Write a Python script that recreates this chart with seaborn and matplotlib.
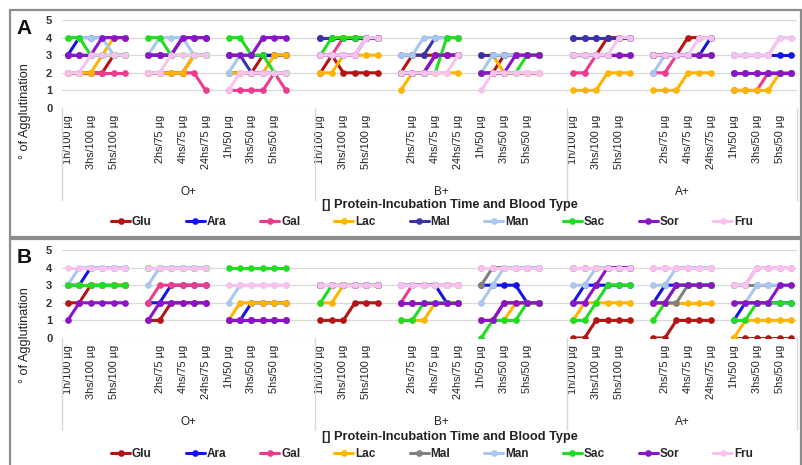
import numpy as np
import pandas as pd
import matplotlib
matplotlib.use("Agg")
import matplotlib.pyplot as plt
from matplotlib.lines import Line2D
from matplotlib.patches import Rectangle
import seaborn as sns

# ---------------- data ----------------
series = ["Glu", "Ara", "Gal", "Lac", "Mal", "Man", "Sac", "Sor", "Fru"]
blood_types = ["O+", "B+", "A+"]
doses = ["100 µg", "75 µg", "50 µg"]
times = ["1h", "2hs", "3hs", "4hs", "5hs", "24hs"]
y_ticks = [0, 1, 2, 3, 4, 5]
x_title = "[] Protein-Incubation Time and Blood Type"
y_title = "° of Agglutination"

# each list: O+ (100,75,50 µg x 6 times), B+ (...), A+ (...)
A_Glu = [2,2,2,2,3,3, 2,2,2,2,3,3, 2,2,2,3,3,3,
         2,3,2,2,2,2, 2,3,3,3,3,3, 2,2,3,3,3,3,
         3,3,3,4,4,4, 3,3,3,4,4,4, 2,2,2,2,2,2]
A_Ara = [3,4,4,4,4,4, 3,3,3,4,4,4, 3,3,3,3,3,3,
         4,4,4,4,4,4, 2,2,2,3,3,3, 3,3,3,3,3,3,
         4,4,4,4,4,4, 3,3,3,3,3,4, 3,3,3,3,3,3]
A_Gal = [2,2,2,2,2,2, 2,2,2,2,2,1, 1,1,1,1,2,1,
         3,3,4,4,4,4, 2,2,2,3,3,3, 2,2,2,2,2,2,
         2,2,3,3,3,3, 2,2,3,3,3,3, 1,1,1,2,2,2]
A_Lac = [2,2,2,3,4,4, 2,2,2,2,3,3, 2,2,2,2,3,3,
         2,2,3,3,3,3, 1,2,2,2,2,2, 3,3,2,2,2,2,
         1,1,1,2,2,2, 1,1,1,2,2,2, 1,1,1,1,2,2]
A_Mal = [3,3,3,3,3,3, 3,3,3,4,4,4, 3,3,2,2,2,2,
         4,4,4,4,4,4, 3,3,3,4,4,4, 3,3,3,3,3,3,
         4,4,4,4,4,4, 3,3,3,3,3,3, 2,2,2,2,2,2]
A_Man = [4,4,4,4,3,3, 3,4,4,4,3,3, 2,3,3,4,4,4,
         3,3,3,3,4,4, 3,3,4,4,4,4, 2,3,3,3,3,3,
         3,3,3,3,3,3, 2,3,3,3,3,3, 3,3,3,3,4,4]
A_Sac = [4,4,3,3,3,3, 4,4,3,3,3,3, 4,4,3,3,2,2,
         3,4,4,4,4,4, 2,2,2,2,4,4, 2,2,2,2,3,3,
         3,3,3,3,3,3, 3,3,3,3,3,3, 2,2,2,2,2,2]
A_Sor = [3,3,3,4,4,4, 3,3,3,4,4,4, 3,3,3,4,4,4,
         3,3,3,3,4,4, 2,2,2,3,3,3, 2,2,2,3,3,3,
         3,3,3,3,3,3, 3,3,3,3,3,3, 2,2,2,2,2,2]
A_Fru = [2,2,3,3,3,3, 2,2,3,3,3,3, 1,2,2,2,2,2,
         3,3,3,3,4,4, 2,2,2,2,2,3, 1,2,2,2,2,2,
         3,3,3,3,4,4, 3,3,3,3,4,4, 3,3,3,3,4,4]

B_Glu = [2,2,3,3,3,3, 1,1,2,2,2,2, 1,1,1,1,1,1,
         1,1,1,2,2,2, 2,2,2,2,2,2, 1,1,2,2,2,2,
         0,0,1,1,1,1, 0,0,1,1,1,1, 0,0,0,0,0,0]
B_Ara = [3,3,4,4,4,4, 2,2,3,3,3,3, 1,1,2,2,2,2,
         3,3,3,3,3,3, 3,3,3,3,2,2, 3,3,3,3,2,2,
         2,3,3,3,3,3, 2,3,3,3,3,3, 1,2,2,2,2,2]
B_Gal = [3,3,3,3,3,3, 2,3,3,3,3,3, 1,1,1,1,1,1,
         3,3,3,3,3,3, 2,3,3,3,3,3, 4,4,4,4,4,4,
         4,4,4,4,4,4, 4,4,4,4,4,4, 3,3,4,4,4,4]
B_Lac = [3,3,3,3,3,3, 4,4,4,4,4,4, 1,2,2,2,2,2,
         2,2,3,3,3,3, 1,1,1,2,2,2, 1,1,1,2,2,2,
         1,2,2,2,2,2, 2,2,2,2,2,2, 0,1,1,1,1,1]
B_Mal = [3,3,3,3,3,3, 4,4,4,4,4,4, 1,1,1,1,1,1,
         3,3,3,3,3,3, 3,3,3,3,3,3, 3,4,4,4,4,4,
         4,4,4,4,4,4, 2,2,2,3,3,3, 3,3,3,3,3,3]
B_Man = [3,4,4,4,4,4, 3,4,4,4,4,4, 2,3,3,3,3,3,
         3,3,3,3,3,3, 3,3,3,3,3,3, 2,3,4,4,4,4,
         3,3,4,4,4,4, 3,3,4,4,4,4, 2,2,3,3,3,3]
B_Sac = [3,3,3,3,3,3, 4,4,4,4,4,4, 4,4,4,4,4,4,
         2,3,3,3,3,3, 1,1,2,2,2,2, 0,1,1,1,2,2,
         1,1,2,3,3,3, 1,2,3,3,3,3, 1,1,2,2,2,2]
B_Sor = [1,2,2,2,2,2, 1,2,2,2,2,2, 1,1,1,1,1,1,
         3,3,3,3,3,3, 2,2,2,2,2,2, 1,1,2,2,2,2,
         2,2,3,4,4,4, 2,2,3,3,3,3, 2,2,2,2,3,3]
B_Fru = [4,4,4,4,4,4, 4,4,4,4,4,4, 3,3,3,3,3,3,
         3,3,3,3,3,3, 3,3,3,3,3,3, 4,4,4,4,4,4,
         4,4,4,4,4,4, 4,4,4,4,4,4, 3,3,4,4,4,4]

panel_A = dict(zip(series, [A_Glu, A_Ara, A_Gal, A_Lac, A_Mal, A_Man, A_Sac, A_Sor, A_Fru]))
panel_B = dict(zip(series, [B_Glu, B_Ara, B_Gal, B_Lac, B_Mal, B_Man, B_Sac, B_Sor, B_Fru]))

colors_A = ["#B41414", "#1414E6", "#EC3C8E", "#FFB400", "#3C32A8",
            "#A8C6EE", "#22DC22", "#8C14C8", "#F7C2F0"]
colors_B = ["#B41414", "#1414E6", "#EC3C8E", "#FFB400", "#808080",
            "#A8C6EE", "#22DC22", "#8C14C8", "#F7C2F0"]

# ---------------- layout helpers ----------------
W, H = 803, 465
GROUP_LEN = 22          # categories per blood type (incl. blank rows)
BLOCK_LEN = 7           # 6 times + blank
N_CAT = 64

def fx(px):
    return px / W

def fy(py):
    return 1 - py / H

def build_df(values):
    rows = []
    for s in series:
        vals = values[s]
        for g in range(len(blood_types)):
            for b in range(len(doses)):
                for t in range(len(times)):
                    rows.append(dict(series=s,
                                     x=g * GROUP_LEN + b * BLOCK_LEN + t,
                                     val=vals[g * 18 + b * 6 + t],
                                     seg=g * 3 + b))
    return pd.DataFrame(rows)

tick_pos, tick_lab = [], []
for g in range(len(blood_types)):
    for b, d in enumerate(doses):
        for t, tm in enumerate(times):
            local = b * BLOCK_LEN + t
            if local % 2 == 0:
                tick_pos.append(g * GROUP_LEN + local)
                tick_lab.append(f"{tm}/{d}")

sns.set_style("white")
plt.rcParams["font.family"] = ["Liberation Sans", "DejaVu Sans"]

fig = plt.figure(figsize=(W / 100, H / 100), dpi=100)

# panel frames
for (x0, y0, x1, y1) in [(10, 10, 801, 237), (10, 239, 801, 470)]:
    fig.patches.append(Rectangle((fx(x0), fy(y1)), fx(x1) - fx(x0), fy(y0) - fy(y1),
                                 transform=fig.transFigure, fill=False,
                                 edgecolor="#8C8C8C", linewidth=1.6))

panels = [
    dict(letter="A", vals=panel_A, colors=colors_A, top=20, zero=108,
         legend_y=222, title_y=205, group_y=192, letter_y=29, ylabel_y=111),
    dict(letter="B", vals=panel_B, colors=colors_B, top=250, zero=338,
         legend_y=454, title_y=437, group_y=422, letter_y=257, ylabel_y=335),
]

left_px, right_px = 62, 797

for p in panels:
    ax = fig.add_axes([fx(left_px), fy(p["zero"]), fx(right_px) - fx(left_px),
                       (p["zero"] - p["top"]) / H])
    df = build_df(p["vals"])
    sns.lineplot(data=df, x="x", y="val", hue="series", hue_order=series,
                 palette=p["colors"], units="seg", estimator=None, sort=False,
                 marker="o", markersize=4.8, markeredgewidth=0, linewidth=2.2,
                 legend=False, ax=ax)
    ax.set_xlim(-0.5, N_CAT - 0.5)
    ax.set_ylim(0, 5)
    for sp in ax.spines.values():
        sp.set_visible(False)
    for yv in y_ticks:
        ax.axhline(yv, color="#D9D9D9", lw=0.9, zorder=0)
    ax.set_yticks(y_ticks)
    ax.set_yticklabels([str(v) for v in y_ticks], fontsize=8, fontweight="bold",
                       color="#333333")
    ax.set_xticks(tick_pos)
    ax.set_xticklabels(tick_lab, rotation=90, fontsize=7.8, color="#222222")
    ax.tick_params(axis="both", length=0)
    ax.tick_params(axis="x", pad=5)
    ax.tick_params(axis="y", pad=7)
    ax.set_xlabel("")
    ax.set_ylabel("")
    ax.grid(False)

    # group separators (multi-level category axis)
    for xs in [-0.5, GROUP_LEN - 0.5, 2 * GROUP_LEN - 0.5, N_CAT - 0.5]:
        ax.plot([xs, xs], [0, -1.05], transform=ax.get_xaxis_transform(),
                color="#D9D9D9", lw=1.0, clip_on=False)

    # group labels
    h = p["zero"] - p["top"]
    for g, bt in enumerate(blood_types):
        start = g * GROUP_LEN - 0.5
        end = min((g + 1) * GROUP_LEN, N_CAT) - 0.5
        ax.text((start + end) / 2, (p["zero"] - p["group_y"]) / h, bt,
                transform=ax.get_xaxis_transform(), ha="center", va="center",
                fontsize=8.5, color="#222222")

    fig.text(fx(450), fy(p["title_y"]), x_title, ha="center", va="center",
             fontsize=9.2, fontweight="bold", color="#222222")
    fig.text(fx(25), fy(p["ylabel_y"]), y_title, rotation=90, ha="center",
             va="center", fontsize=9.2, color="#222222")
    fig.text(fx(24), fy(p["letter_y"]), p["letter"], ha="center", va="center",
             fontsize=15, fontweight="bold", color="#111111")

    handles = [Line2D([0], [0], color=c, lw=2.2, marker="o", markersize=4.8,
                      markeredgewidth=0) for c in p["colors"]]
    fig.legend(handles, series, loc="center", bbox_to_anchor=(fx(432), fy(p["legend_y"])),
               ncol=9, frameon=False, numpoints=1,
               handlelength=1.6, handletextpad=0.15, columnspacing=2.9,
               prop=dict(weight="bold", size=8.5))

fig.savefig("out.png", dpi=100, facecolor="white")
